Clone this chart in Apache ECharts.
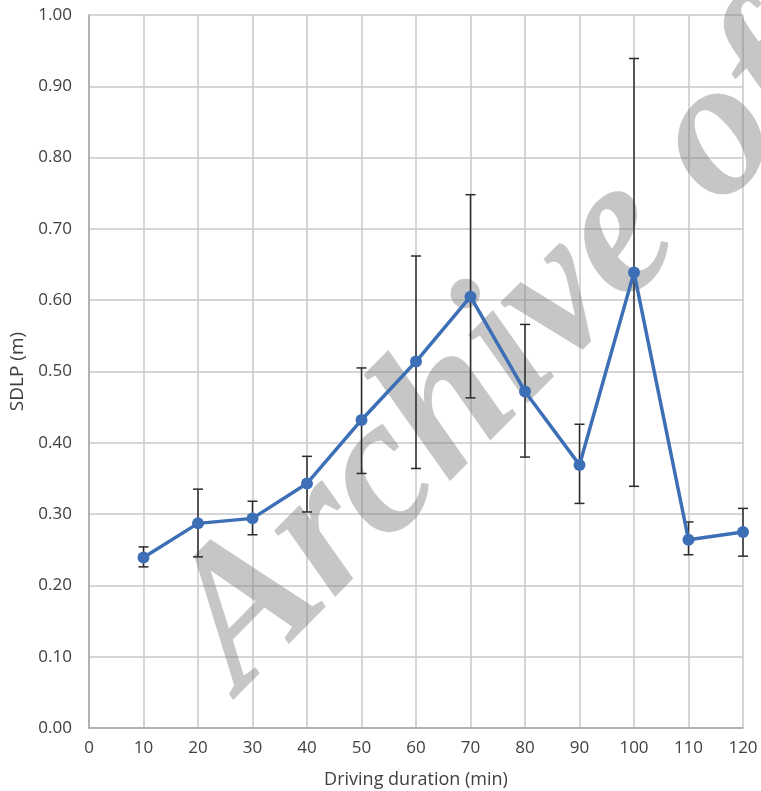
<!DOCTYPE html>
<html>
<head>
<meta charset="utf-8">
<script src="https://cdn.jsdelivr.net/npm/echarts@6/dist/echarts.min.js"></script>
<style>html,body{margin:0;padding:0;background:#fff}#c{width:761px;height:791px}</style>
</head>
<body>
<div id="c"></div>
<script>
var durations = [10, 20, 30, 40, 50, 60, 70, 80, 90, 100, 110, 120];
var sdlp      = [0.239, 0.287, 0.294, 0.343, 0.432, 0.514, 0.605, 0.472, 0.369, 0.639, 0.264, 0.275];
var errHigh   = [0.254, 0.335, 0.318, 0.381, 0.505, 0.662, 0.748, 0.566, 0.426, 0.939, 0.289, 0.308];
var errLow    = [0.226, 0.240, 0.271, 0.303, 0.357, 0.364, 0.463, 0.380, 0.315, 0.339, 0.243, 0.241];
var watermark = 'Archive of';

var chart = echarts.init(document.getElementById('c'));
var labelFont = '"Open Sans", "Noto Sans", sans-serif';

var lineData = durations.map(function (d, i) { return [d, sdlp[i]]; });
var errData = durations.map(function (d, i) { return [d, errLow[i], errHigh[i]]; });

chart.setOption({
  animation: false,
  backgroundColor: '#ffffff',
  grid: { left: 89, right: 18, top: 15, bottom: 63, containLabel: false, outerBoundsMode: 'none' },
  graphic: [{
    type: 'text',
    x: 274, y: 726,
    rotation: 0.79,
    z: 1,
    silent: true,
    style: {
      text: watermark,
      font: 'italic bold 196px "Liberation Serif", "DejaVu Serif", serif',
      fill: 'rgba(120,120,120,0.42)',
      verticalAlign: 'bottom',
      align: 'left'
    }
  }],
  xAxis: {
    type: 'value', min: 0, max: 120, interval: 10,
    name: 'Driving duration (min)', nameLocation: 'middle', nameGap: 43,
    nameTextStyle: { fontSize: 18, color: '#404040', fontFamily: labelFont },
    axisLine: { show: true, lineStyle: { color: '#a6a6a6', width: 1.5 } },
    axisTick: { show: false },
    axisLabel: { fontSize: 17, color: '#404040', fontFamily: labelFont, margin: 12 },
    splitLine: { show: true, lineStyle: { color: '#c9c9c9', width: 1.5 } }
  },
  yAxis: {
    type: 'value', min: 0, max: 1, interval: 0.1,
    name: 'SDLP (m)', nameLocation: 'middle', nameGap: 60, nameRotate: 90,
    nameTextStyle: { fontSize: 19, color: '#404040', fontFamily: labelFont },
    axisLine: { show: true, lineStyle: { color: '#a6a6a6', width: 1.5 } },
    axisTick: { show: false },
    axisLabel: { fontSize: 17, color: '#404040', fontFamily: labelFont, margin: 17,
      formatter: function (v) { return v.toFixed(2); } },
    splitLine: { show: true, lineStyle: { color: '#c9c9c9', width: 1.5 } }
  },
  series: [{
    type: 'custom',
    z: 3,
    renderItem: function (params, api) {
      var x = api.value(0);
      var lo = api.coord([x, api.value(1)]);
      var hi = api.coord([x, api.value(2)]);
      var hw = 5;
      var st = { stroke: '#2b2b2b', lineWidth: 1.5 };
      return {
        type: 'group',
        children: [
          { type: 'line', shape: { x1: lo[0], y1: lo[1], x2: hi[0], y2: hi[1] }, style: st },
          { type: 'line', shape: { x1: lo[0] - hw, y1: lo[1], x2: lo[0] + hw, y2: lo[1] }, style: st },
          { type: 'line', shape: { x1: hi[0] - hw, y1: hi[1], x2: hi[0] + hw, y2: hi[1] }, style: st }
        ]
      };
    },
    encode: { x: 0, y: [1, 2] },
    data: errData
  }, {
    type: 'line',
    z: 4,
    data: lineData,
    symbol: 'circle',
    symbolSize: 12,
    lineStyle: { color: '#3d6fb6', width: 3.5 },
    itemStyle: { color: '#3d6fb6' }
  }]
});
</script>
</body>
</html>
